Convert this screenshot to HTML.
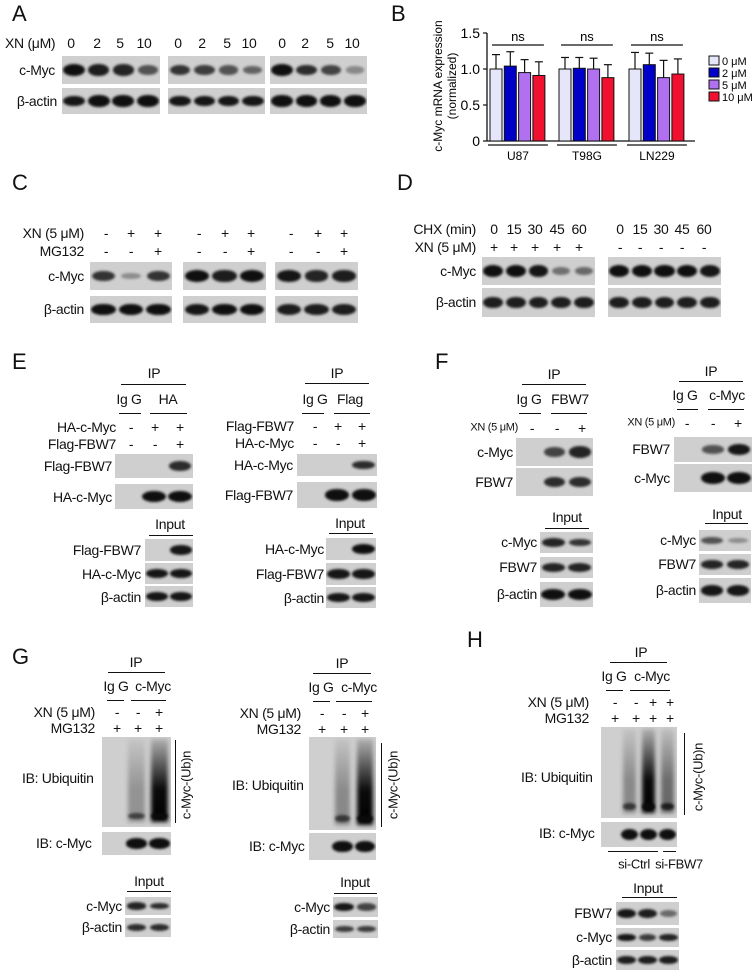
<!DOCTYPE html>
<html><head><meta charset="utf-8">
<style>
html,body{margin:0;padding:0;background:#fff;}
#root{position:relative;width:756px;height:976px;overflow:hidden;font-family:"Liberation Sans",Arial,sans-serif;color:#111;}
.t{position:absolute;line-height:1;white-space:nowrap;letter-spacing:-0.3px;}
.ln{position:absolute;background:#111;height:1.4px;}
.blot{position:absolute;background:#cfcfcf;overflow:hidden;}
.band{position:absolute;border-radius:50%;filter:blur(1.4px);}
.smear{position:absolute;filter:blur(2px);}
.letter{position:absolute;font-size:22px;line-height:1;}
</style></head>
<body>
<div id="root">
<svg id="chartB" width="756" height="976" style="position:absolute;left:0;top:0;pointer-events:none"></svg>
</div>
<script>
// ---- Panel B data ----
const groups = ["U87","T98G","LN229"];
const doses = ["0 μM","2 μM","5 μM","10 μM"];
const valsU87 = [1.00,1.04,0.95,0.91];
const valsT98G = [1.00,1.01,1.00,0.88];
const valsLN229 = [1.00,1.06,0.88,0.93];
const errU87 = [0.20,0.20,0.18,0.19];
const errT98G = [0.16,0.15,0.15,0.18];
const errLN229 = [0.23,0.16,0.24,0.21];
const yTicks = [0,0.5,1.0,1.5];
const yTickLabels = ["0","0.5","1.0","1.5"];
const sigLabels = ["ns","ns","ns"];

const root=document.getElementById('root');
function T(name,x,y,s,anchor,size){
  const e=document.createElement('div');
  e.className='t';
  e.textContent=s;
  const tx=anchor==='c'?'-50%':anchor==='r'?'-100%':'0';
  e.style.left=x+'px';e.style.top=y+'px';
  e.style.fontSize=(size||14)+'px';
  e.style.transform='translate('+tx+',-50%)';
  
  
  root.appendChild(e);return e;
}
function L(name,x1,x2,y){
  const e=document.createElement('div');
  e.className='ln';
  e.style.left=x1+'px';e.style.top=y+'px';e.style.width=(x2-x1)+'px';
  
  
  root.appendChild(e);
}
function V(name,x,y1,y2){
  const e=document.createElement('div');
  e.className='ln';
  e.style.left=x+'px';e.style.top=y1+'px';e.style.height=(y2-y1)+'px';e.style.width='1.4px';
  
  
  root.appendChild(e);
}
function B(name,x1,y1,x2,y2,bands,smear){
  const e=document.createElement('div');
  e.className='blot';
  const w=x2-x1,h=y2-y1;
  e.style.left=x1+'px';e.style.top=y1+'px';e.style.width=w+'px';e.style.height=h+'px';
  
  
  const n=bands.length,lw=w/n;
  bands.forEach((v,i)=>{
    if(v<=0)return;
    const cx=lw*(i+0.5);
    if(smear){
      const s=document.createElement('div');
      s.className='smear';
      const sw=lw*0.7;
      s.style.left=(cx-sw/2)+'px';s.style.top=(h*0.02)+'px';s.style.width=sw+'px';s.style.height=(h*0.93)+'px';
      s.style.background='linear-gradient(to bottom,rgba(0,0,0,'+(0.15*v)+'),rgba(0,0,0,'+(0.95*v)+') 60%,rgba(0,0,0,'+v+'))';
      
      
      e.appendChild(s);
      const bb=document.createElement('div');
      bb.className='band';
      bb.style.left=(cx-sw/2)+'px';bb.style.top=(h*0.84)+'px';bb.style.width=sw+'px';bb.style.height=(h*0.07)+'px';
      bb.style.background='rgba(10,10,10,'+Math.min(1,v+0.3)+')';
      
      
      e.appendChild(bb);
      return;
    }
    const b=document.createElement('div');
    b.className='band';
    const bw=lw*(0.72+0.18*v), bh=Math.max(4,h*(0.22+0.22*v));
    b.style.left=(cx-bw/2)+'px';b.style.top=(h/2-bh/2)+'px';b.style.width=bw+'px';b.style.height=bh+'px';
    b.style.background='rgba(15,15,15,'+Math.min(1,0.25+0.8*v)+')';
    
    
    e.appendChild(b);
  });
  root.appendChild(e);
}
function letter(name,x,y,s){
  const e=document.createElement('div');
  e.className='letter';e.textContent=s;
  e.style.left=x+'px';e.style.top=(y-11)+'px';
  
  
  root.appendChild(e);
}
function rot(name,x,y,s){
  const e=T(name,x,y,s,'c',13);
  e.style.transform='translate(-50%,-50%) rotate(-90deg)';
}

// ---------- Panel A ----------
letter('panel-a-label',12,14,'A');
T('xn-dose-label',5,43,'XN (μM)','l',14);
[[71,97,120,144],[178,202,227,249],[282,305,330,352]].forEach(xs=>{
  ['0','2','5','10'].forEach((s,i)=>T('dose-label',xs[i],43,s,'c',14));
});
T('c-myc-label',55,70,'c-Myc','r',14);
T('beta-actin-label',57,101,'β-actin','r',14);
B('a-cmyc-blot-1',62,56,160,84,[1,0.85,0.8,0.5]);
B('a-actin-blot-1',62,88,160,114,[0.9,0.95,0.95,0.95]);
B('a-cmyc-blot-2',168,56,265,84,[0.7,0.65,0.5,0.4]);
B('a-actin-blot-2',168,88,265,114,[0.9,0.9,0.9,0.9]);
B('a-cmyc-blot-3',270,56,367,84,[1,0.75,0.6,0.15]);
B('a-actin-blot-3',270,88,367,114,[0.95,0.95,0.95,0.95]);

// ---------- Panel C ----------
letter('panel-c-label',12,183,'C');
T('xn-label',84,233,'XN (5 μM)','r',14);
T('mg132-label',84,251,'MG132','r',14);
[[106,131,158],[199,225,251],[291,318,344]].forEach(xs=>{
  ['-','+','+'].forEach((s,i)=>T('xn-sign',xs[i],233,s,'c',14));
  ['-','-','+'].forEach((s,i)=>T('mg132-sign',xs[i],251,s,'c',14));
});
T('c-myc-label',84,276,'c-Myc','r',14);
T('beta-actin-label',84,309,'β-actin','r',14);
B('c-cmyc-blot-1',90,262,172,290,[0.7,0.12,0.7]);
B('c-actin-blot-1',90,296,172,323,[1,1,1]);
B('c-cmyc-blot-2',183,262,266,290,[0.95,0.85,0.95]);
B('c-actin-blot-2',183,296,266,323,[0.9,0.95,0.95]);
B('c-cmyc-blot-3',275,262,358,290,[0.9,0.8,0.85]);
B('c-actin-blot-3',275,296,358,323,[0.85,0.85,0.85]);

// ---------- Panel D ----------
letter('panel-d-label',397,183,'D');
T('chx-label',476,229,'CHX (min)','r',14);
T('xn-label',476,247,'XN (5 μM)','r',14);
const tms=['0','15','30','45','60'];
[494,514,535,557,579].forEach((x,i)=>{T('chx-time',x,229,tms[i],'c',14);T('xn-sign',x,247,'+','c',14);});
[620,640,661,682,704].forEach((x,i)=>{T('chx-time',x,229,tms[i],'c',14);T('xn-sign',x,247,'-','c',14);});
T('c-myc-label',476,271,'c-Myc','r',14);
T('beta-actin-label',476,302,'β-actin','r',14);
B('d-cmyc-blot-1',482,257,595,285,[1,1,0.9,0.3,0.35]);
B('d-actin-blot-1',482,288,595,317,[0.85,0.85,0.85,0.85,0.85]);
B('d-cmyc-blot-2',608,257,721,285,[1,1,1,1,0.9]);
B('d-actin-blot-2',608,288,721,317,[0.85,0.85,0.85,0.85,0.85]);

// ---------- Panel E ----------
letter('panel-e-label',12,362,'E');
T('ip-label',154,373,'IP','c',14); L('ip-line',121,186,384);
T('igg-label',129,399,'Ig G','c',14); T('ha-label',168,399,'HA','c',14);
L('igg-line',119,141,413); L('ha-line',150,187,413);
T('ha-cmyc-row-label',116,427,'HA-c-Myc','r',14);
T('flag-fbw7-row-label',116,444,'Flag-FBW7','r',14);
[131,155,180].forEach((x,i)=>{T('sign',x,427,['-','+','+'][i],'c',14);T('sign',x,444,['-','-','+'][i],'c',14);});
T('flag-fbw7-label',112,466,'Flag-FBW7','r',14);
T('ha-cmyc-label',112,497,'HA-c-Myc','r',14);
B('e1-flag-blot',115,454,193,478,[0,0,0.75]);
B('e1-ha-blot',115,484,193,509,[0,1,1]);
T('input-label',170,524,'Input','c',14); L('input-line',149,193,535);
T('flag-fbw7-label',141,550,'Flag-FBW7','r',14);
T('ha-cmyc-label',141,574,'HA-c-Myc','r',14);
T('beta-actin-label',141,597,'β-actin','r',14);
B('e1-input-flag',145,539,193,561,[0,0.9]);
B('e1-input-ha',145,563,193,584,[0.9,0.9]);
B('e1-input-actin',145,586,193,607,[0.9,0.9]);

T('ip-label',337,373,'IP','c',14); L('ip-line',305,369,383);
T('igg-label',315,399,'Ig G','c',14); T('flag-label',350,399,'Flag','c',14);
L('igg-line',302,324,413); L('flag-line',334,370,413);
T('flag-fbw7-row-label',294,426,'Flag-FBW7','r',14);
T('ha-cmyc-row-label',294,443,'HA-c-Myc','r',14);
[315,338,362].forEach((x,i)=>{T('sign',x,426,['-','+','+'][i],'c',14);T('sign',x,443,['-','-','+'][i],'c',14);});
T('ha-cmyc-label',293,465,'HA-c-Myc','r',14);
T('flag-fbw7-label',293,495,'Flag-FBW7','r',14);
B('e2-ha-blot',297,454,377,476,[0,0,0.75]);
B('e2-flag-blot',297,482,377,508,[0,1,1]);
T('input-label',350,523,'Input','c',14); L('input-line',329,373,533);
T('ha-cmyc-label',324,549,'HA-c-Myc','r',14);
T('flag-fbw7-label',324,574,'Flag-FBW7','r',14);
T('beta-actin-label',324,598,'β-actin','r',14);
B('e2-input-ha',326,538,376,560,[0,1]);
B('e2-input-flag',326,563,376,585,[0.9,0.9]);
B('e2-input-actin',326,587,376,608,[0.9,0.9]);

// ---------- Panel F ----------
letter('panel-f-label',435,362,'F');
T('ip-label',554,374,'IP','c',14); L('ip-line',522,586,384);
T('igg-label',529,399,'Ig G','c',14); T('fbw7-ip-label',570,399,'FBW7','c',14);
L('igg-line',519,541,413); L('fbw7-line',551,587,413);
T('xn-label',518,428,'XN (5 μM)','r',11);
[532,557,582].forEach((x,i)=>T('sign',x,428,['-','-','+'][i],'c',14));
T('c-myc-label',513,452,'c-Myc','r',14);
T('fbw7-label',513,482,'FBW7','r',14);
B('f1-cmyc-blot',516,438,593,466,[0,0.6,0.8]);
B('f1-fbw7-blot',516,468,593,496,[0,0.75,0.75]);
T('input-label',567,517,'Input','c',14); L('input-line',545,589,528);
T('c-myc-label',537,542,'c-Myc','r',14);
T('fbw7-label',537,567,'FBW7','r',14);
T('beta-actin-label',537,594,'β-actin','r',14);
B('f1-input-cmyc',540,532,593,553,[0.8,0.7]);
B('f1-input-fbw7',540,557,593,578,[0.8,0.8]);
B('f1-input-actin',540,582,593,607,[0.95,0.95]);

T('ip-label',711,371,'IP','c',14); L('ip-line',679,743,381);
T('igg-label',685,395,'Ig G','c',14); T('cmyc-ip-label',727,395,'c-Myc','c',14);
L('igg-line',677,698,409); L('cmyc-line',708,744,409);
T('xn-label',675,423,'XN (5 μM)','r',11);
[687,713,738].forEach((x,i)=>T('sign',x,423,['-','-','+'][i],'c',14));
T('fbw7-label',670,449,'FBW7','r',14);
T('c-myc-label',670,478,'c-Myc','r',14);
B('f2-fbw7-blot',674,437,752,462,[0,0.5,0.9]);
B('f2-cmyc-blot',674,464,752,492,[0,1,1]);
T('input-label',727,514,'Input','c',14); L('input-line',705,748,523);
T('c-myc-label',696,540,'c-Myc','r',14);
T('fbw7-label',696,564,'FBW7','r',14);
T('beta-actin-label',696,590,'β-actin','r',14);
B('f2-input-cmyc',699,530,751,551,[0.5,0.12]);
B('f2-input-fbw7',699,554,751,575,[0.8,0.8]);
B('f2-input-actin',699,578,751,603,[0.9,0.9]);

// ---------- Panel G ----------
letter('panel-g-label',12,657,'G');
function gPanel(o){
  T('ip-label',o.ipx,o.y0,'IP','c',14); L('ip-line',o.ipl[0],o.ipl[1],o.y0+10);
  T('igg-label',o.igx,o.y0+24,'Ig G','c',14); T('cmyc-ip-label',o.cmx,o.y0+24,'c-Myc','c',14);
  L('igg-line',o.igl[0],o.igl[1],o.y0+38); L('cmyc-line',o.cml[0],o.cml[1],o.y0+38);
  T('xn-label',o.lr,o.y0+50,'XN (5 μM)','r',14);
  T('mg132-label',o.lr,o.y0+66,'MG132','r',14);
}
gPanel({ipx:136,y0:662,ipl:[108,165],igx:116,cmx:153,igl:[107,124],cml:[131,166],lr:95});
[117,138,159].forEach((x,i)=>{T('sign',x,712,['-','-','+'][i],'c',14);T('sign',x,728,'+','c',14);});
T('ib-ubiquitin-label',22,778,'IB: Ubiquitin','l',14);
B('g1-ub-blot',102,737,171,827,[0,0.3,1],true);
V('ub-bracket',175,740,823); rot('ub-bracket-label',186,785,'c-Myc-(Ub)n');
T('ib-cmyc-label',36,843,'IB: c-Myc','l',14);
B('g1-ib-cmyc',102,832,171,855,[0,1,1]);
T('input-label',149,881,'Input','c',14); L('input-line',127,171,891);
T('c-myc-label',122,906,'c-Myc','r',14);
T('beta-actin-label',122,927,'β-actin','r',14);
B('g1-input-cmyc',125,897,171,915,[0.8,0.75]);
B('g1-input-actin',125,918,171,937,[0.75,0.75]);

gPanel({ipx:342,y0:663,ipl:[313,371],igx:321,cmx:359,igl:[313,330],cml:[336,372],lr:301});
[322,344,365].forEach((x,i)=>{T('sign',x,713,['-','-','+'][i],'c',14);T('sign',x,729,'+','c',14);});
T('ib-ubiquitin-label',232,785,'IB: Ubiquitin','l',14);
B('g2-ub-blot',309,737,376,830,[0,0.35,1],true);
V('ub-bracket',381,743,827); rot('ub-bracket-label',393,785,'c-Myc-(Ub)n');
T('ib-cmyc-label',249,846,'IB: c-Myc','l',14);
B('g2-ib-cmyc',309,833,376,860,[0,1,1]);
T('input-label',355,882,'Input','c',14); L('input-line',334,377,893);
T('c-myc-label',330,907,'c-Myc','r',14);
T('beta-actin-label',330,929,'β-actin','r',14);
B('g2-input-cmyc',333,897,378,917,[0.9,0.6]);
B('g2-input-actin',333,920,378,938,[0.65,0.65]);

// ---------- Panel H ----------
letter('panel-h-label',467,640,'H');
gPanel({ipx:641,y0:652,ipl:[610,667],igx:614,cmx:652,igl:[606,623],cml:[630,670],lr:589});
[615,636,653,670].forEach((x,i)=>{T('sign',x,702,['-','-','+','+'][i],'c',14);T('sign',x,718,'+','c',14);});
T('ib-ubiquitin-label',521,777,'IB: Ubiquitin','l',14);
B('h-ub-blot',601,727,677,818,[0,0.35,1,0.5],true);
V('ub-bracket',684,733,815); rot('ub-bracket-label',698,777,'c-Myc-(Ub)n');
T('ib-cmyc-label',539,833,'IB: c-Myc','l',14);
B('h-ib-cmyc',601,822,677,847,[0,1,1,1]);
L('si-ctrl-line',608,658,851); L('si-fbw7-line',663,676,851);
T('si-ctrl-label',634,864,'si-Ctrl','c',13); T('si-fbw7-label',679,864,'si-FBW7','c',13);
T('input-label',648,888,'Input','c',14); L('input-line',622,677,897);
T('fbw7-label',612,913,'FBW7','r',14);
T('c-myc-label',612,937,'c-Myc','r',14);
T('beta-actin-label',612,960,'β-actin','r',14);
B('h-input-fbw7',616,902,679,925,[0.9,0.85,0.35]);
B('h-input-cmyc',616,928,679,947,[0.9,0.65,0.8]);
B('h-input-actin',616,950,679,970,[0.85,0.85,0.85]);

// ---------- Panel B chart ----------
letter('panel-b-label',391,14,'B');
const svg=document.getElementById('chartB');
const NS='http://www.w3.org/2000/svg';
const y0=141,yTop=33,axX=487;
function yS(v){return y0-(v/1.5)*(y0-yTop);}
const groupStart=[490,559,629];
const barW=12,barStep=14.3;
const colors=['#e6e6fa','#0000c8','#b070f0','#f01030'];
function mk(tag,attrs){const e=document.createElementNS(NS,tag);for(const k in attrs)e.setAttribute(k,attrs[k]);svg.appendChild(e);return e;}
let e;
e=mk('line',{x1:axX,y1:yTop,x2:axX,y2:y0,stroke:'#111','stroke-width':1.3});


e=mk('line',{x1:axX,y1:y0,x2:695,y2:y0,stroke:'#111','stroke-width':1.3});


yTicks.forEach((v,i)=>{
  const t=mk('line',{x1:axX-4,y1:yS(v),x2:axX,y2:yS(v),stroke:'#111','stroke-width':1.2});
  
  
  const tx=mk('text',{x:axX-7,y:yS(v)+5,'text-anchor':'end','font-size':14,'font-family':'Liberation Sans, sans-serif'});
  tx.textContent=yTickLabels[i];
  
  
});
const yt=mk('text',{x:0,y:0,'text-anchor':'middle','font-size':12,'font-family':'Liberation Sans, sans-serif',transform:'translate(442,86) rotate(-90)'});
yt.innerHTML='<tspan x="0" dy="0">c-Myc mRNA expression</tspan><tspan x="0" dy="14">(normalized)</tspan>';


const allVals=[valsU87,valsT98G,valsLN229];
const allErr=[errU87,errT98G,errLN229];
groups.forEach((g,gi)=>{
  allVals[gi].forEach((v,di)=>{
    const x=groupStart[gi]+di*barStep;
    const top=yS(v+allErr[gi][di]);
    const el=mk('line',{x1:x+barW/2,y1:top,x2:x+barW/2,y2:yS(v),stroke:'#111','stroke-width':1.2});
    
    
    const cap=mk('line',{x1:x+barW/2-4,y1:top,x2:x+barW/2+4,y2:top,stroke:'#111','stroke-width':1.2});
    
    
    const r=mk('rect',{x:x,y:yS(v),width:barW,height:y0-yS(v),fill:colors[di],stroke:'#111','stroke-width':1});
    
    
  });
  const gx1=groupStart[gi]-2,gx2=groupStart[gi]+3*barStep+barW+3;
  const sl=mk('line',{x1:gx1+4,y1:45,x2:gx2-4,y2:45,stroke:'#111','stroke-width':1.2});
  
  
  const st=mk('text',{x:(gx1+gx2)/2,y:41,'text-anchor':'middle','font-size':13,'font-family':'Liberation Sans, sans-serif'});
  st.textContent=sigLabels[gi];
  
  
  const gl=mk('line',{x1:gx1,y1:145,x2:gx2,y2:145,stroke:'#111','stroke-width':1.2});
  
  
  const gt=mk('text',{x:(gx1+gx2)/2,y:160,'text-anchor':'middle','font-size':12,'font-family':'Liberation Sans, sans-serif'});
  gt.textContent=g;
  
  
});
doses.forEach((d,i)=>{
  const ly=56+i*12;
  const r=mk('rect',{x:709,y:ly,width:10,height:9,fill:colors[i],stroke:'#111','stroke-width':1});
  
  
  const t=mk('text',{x:722,y:ly+9,'font-size':11,'font-family':'Liberation Sans, sans-serif'});
  t.textContent=d;
  
  
});
</script>
</body></html>
